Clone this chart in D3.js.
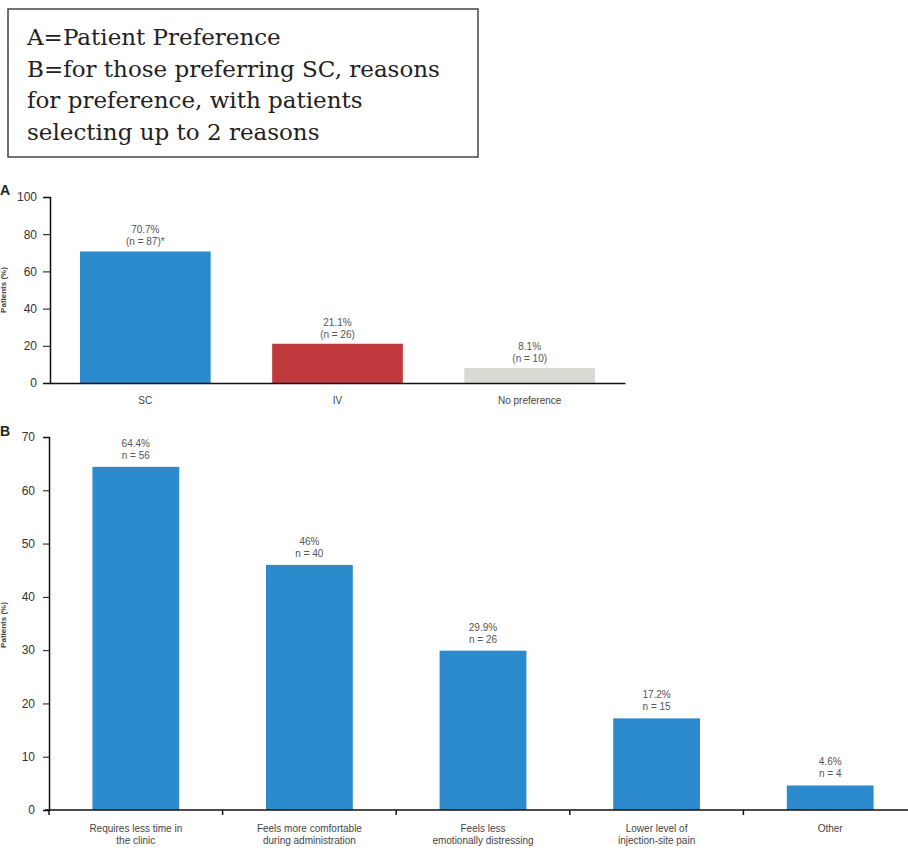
<!DOCTYPE html>
<html>
<head>
<meta charset="UTF-8">
<title>Patient preference</title>
<script src="https://cdn.jsdelivr.net/npm/d3@7"></script>
<style>
  body { margin: 0; background: #fff; }
  svg { display: block; }
  .tick text { font-family: Arial, "Liberation Sans", sans-serif; }
</style>
</head>
<body>
<script>
// panel A data
var prefCats = ["SC", "IV", "No preference"];
var prefValues = [70.7, 21.1, 8.1];
var prefLabels = ["70.7%", "21.1%", "8.1%"];
var prefN = ["(n = 87)*", "(n = 26)", "(n = 10)"];
var prefColors = ["#2b8bcc", "#c0393c", "#d8dad4"];
var prefTicks = [0, 20, 40, 60, 80, 100];

// panel B data
var reasonCats = [
  ["Requires less time in", "the clinic"],
  ["Feels more comfortable", "during administration"],
  ["Feels less", "emotionally distressing"],
  ["Lower level of", "injection-site pain"],
  ["Other"]
];
var reasonValues = [64.4, 46, 29.9, 17.2, 4.6];
var reasonLabels = ["64.4%", "46%", "29.9%", "17.2%", "4.6%"];
var reasonN = ["n = 56", "n = 40", "n = 26", "n = 15", "n = 4"];
var reasonTicks = [0, 10, 20, 30, 40, 50, 60, 70];

var boxLines = [
  "A=Patient Preference",
  "B=for those preferring SC, reasons",
  "for preference, with patients",
  "selecting up to 2 reasons"
];

var svg = d3.select("body").append("svg")
  .attr("width", 908)
  .attr("height", 852);

var sans = "Arial, 'Liberation Sans', sans-serif";

// legend box at the top
svg.append("rect")
  .attr("x", 8).attr("y", 9)
  .attr("width", 470).attr("height", 148)
  .attr("fill", "#fff")
  .attr("stroke", "#444")
  .attr("stroke-width", 1.5);

svg.append("g").selectAll("text")
  .data(boxLines)
  .enter().append("text")
  .attr("x", 27)
  .attr("y", function(d, i) { return 45 + i * 31.5; })
  .style("font-family", "'DejaVu Serif', 'Liberation Serif', serif")
  .style("font-size", "23px")
  .attr("fill", "#222")
  .text(function(d) { return d; });

//PANEL A
//////////////////////////////////////////////////////////////
var xA = d3.scaleBand().domain(prefCats).range([50, 625]).paddingInner(0.32).paddingOuter(0.156);
var yA = d3.scaleLinear().domain([0, 100]).range([383, 197]);

var gA = svg.append("g");

gA.selectAll("rect.bar")
  .data(prefValues)
  .enter().append("rect")
  .attr("class", "bar")
  .attr("x", function(d, i) { return xA(prefCats[i]); })
  .attr("y", function(d) { return yA(d); })
  .attr("width", xA.bandwidth())
  .attr("height", function(d) { return yA(0) - yA(d); })
  .attr("fill", function(d, i) { return prefColors[i]; });

gA.selectAll("text.pct")
  .data(prefValues)
  .enter().append("text")
  .attr("class", "pct")
  .attr("x", function(d, i) { return xA(prefCats[i]) + xA.bandwidth() / 2; })
  .attr("y", function(d) { return yA(d) - 18; })
  .attr("text-anchor", "middle")
  .style("font-family", sans).style("font-size", "10px")
  .attr("fill", "#555")
  .text(function(d, i) { return prefLabels[i]; });

gA.selectAll("text.n")
  .data(prefValues)
  .enter().append("text")
  .attr("class", "n")
  .attr("x", function(d, i) { return xA(prefCats[i]) + xA.bandwidth() / 2; })
  .attr("y", function(d) { return yA(d) - 6; })
  .attr("text-anchor", "middle")
  .style("font-family", sans).style("font-size", "10px")
  .attr("fill", "#555")
  .text(function(d, i) { return prefN[i]; });

var axA = gA.append("g")
  .attr("transform", "translate(50,0)")
  .call(d3.axisLeft(yA).tickValues(prefTicks).tickSize(7).tickPadding(6));
axA.select(".domain").attr("stroke", "#111").attr("stroke-width", 1.5);
axA.selectAll(".tick line").attr("stroke", "#111");
axA.selectAll(".tick text").style("font-size", "12px").attr("fill", "#333");

var bxA = gA.append("g")
  .attr("transform", "translate(0,383)")
  .call(d3.axisBottom(xA).tickSize(0).tickPadding(14));
bxA.select(".domain").attr("stroke", "#111").attr("stroke-width", 1.5);
bxA.selectAll(".tick text").style("font-size", "10px").attr("fill", "#444");

gA.append("text")
  .attr("transform", "translate(6,290) rotate(-90)")
  .attr("text-anchor", "middle")
  .style("font-family", sans).style("font-size", "8px").style("font-weight", "bold")
  .attr("fill", "#444")
  .text("Patients (%)");

svg.append("text")
  .attr("x", 0).attr("y", 195)
  .style("font-family", sans).style("font-size", "14px").style("font-weight", "bold")
  .attr("fill", "#222")
  .text("A");

//PANEL B
//////////////////////////////////////////////////////////////
var xB = d3.scaleBand().domain(d3.range(reasonCats.length)).range([49, 917]).paddingInner(0.5).paddingOuter(0.25);
var yB = d3.scaleLinear().domain([0, 70]).range([810, 437]);

var gB = svg.append("g");

gB.selectAll("rect.bar")
  .data(reasonValues)
  .enter().append("rect")
  .attr("class", "bar")
  .attr("x", function(d, i) { return xB(i); })
  .attr("y", function(d) { return yB(d); })
  .attr("width", xB.bandwidth())
  .attr("height", function(d) { return yB(0) - yB(d); })
  .attr("fill", "#2b8bcc");

gB.selectAll("text.pct")
  .data(reasonValues)
  .enter().append("text")
  .attr("class", "pct")
  .attr("x", function(d, i) { return xB(i) + xB.bandwidth() / 2; })
  .attr("y", function(d) { return yB(d) - 20; })
  .attr("text-anchor", "middle")
  .style("font-family", sans).style("font-size", "10px")
  .attr("fill", "#555")
  .text(function(d, i) { return reasonLabels[i]; });

gB.selectAll("text.n")
  .data(reasonValues)
  .enter().append("text")
  .attr("class", "n")
  .attr("x", function(d, i) { return xB(i) + xB.bandwidth() / 2; })
  .attr("y", function(d) { return yB(d) - 8; })
  .attr("text-anchor", "middle")
  .style("font-family", sans).style("font-size", "10px")
  .attr("fill", "#555")
  .text(function(d, i) { return reasonN[i]; });

var axB = gB.append("g")
  .attr("transform", "translate(49,0)")
  .call(d3.axisLeft(yB).tickValues(reasonTicks).tickSize(6).tickPadding(8));
axB.select(".domain").attr("stroke", "#111").attr("stroke-width", 1.5);
axB.selectAll(".tick line").attr("stroke", "#111");
axB.selectAll(".tick text").style("font-size", "12px").attr("fill", "#333");

// x axis line with ticks at category boundaries
var step = xB.step();
var bounds = d3.range(reasonCats.length).map(function(i) { return 49 + i * step; });
gB.append("line")
  .attr("x1", 45).attr("x2", 908)
  .attr("y1", yB(0)).attr("y2", yB(0))
  .attr("stroke", "#111").attr("stroke-width", 1.5);
gB.selectAll("line.bt")
  .data(bounds)
  .enter().append("line")
  .attr("class", "bt")
  .attr("x1", function(d) { return d; }).attr("x2", function(d) { return d; })
  .attr("y1", yB(0)).attr("y2", yB(0) + 5)
  .attr("stroke", "#111").attr("stroke-width", 1.5);

var catText = gB.selectAll("text.cat")
  .data(reasonCats)
  .enter().append("text")
  .attr("class", "cat")
  .attr("text-anchor", "middle")
  .style("font-family", sans).style("font-size", "10px")
  .attr("fill", "#444");
catText.selectAll("tspan")
  .data(function(d, i) { return d.map(function(t) { return { t: t, i: i }; }); })
  .enter().append("tspan")
  .attr("x", function(d) { return xB(d.i) + xB.bandwidth() / 2; })
  .attr("y", function(d, j) { return 832 + j * 12; })
  .text(function(d) { return d.t; });

gB.append("text")
  .attr("transform", "translate(6,625) rotate(-90)")
  .attr("text-anchor", "middle")
  .style("font-family", sans).style("font-size", "8px").style("font-weight", "bold")
  .attr("fill", "#444")
  .text("Patients (%)");

svg.append("text")
  .attr("x", 0).attr("y", 436)
  .style("font-family", sans).style("font-size", "14px").style("font-weight", "bold")
  .attr("fill", "#222")
  .text("B");
</script>
</body>
</html>
